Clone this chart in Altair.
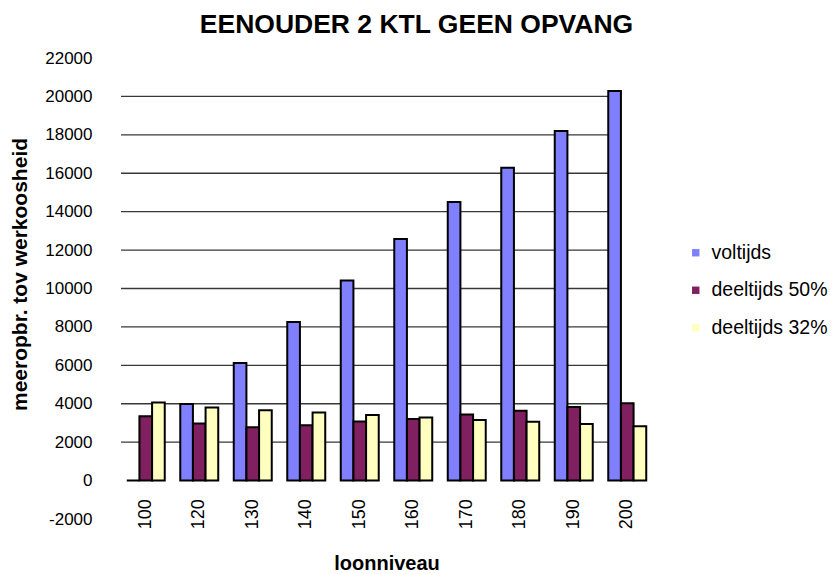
import altair as alt
import pandas as pd

categories = ["100", "120", "130", "140", "150", "160", "170", "180", "190", "200"]
series = ["voltijds", "deeltijds 50%", "deeltijds 32%"]
voltijds = [0, 3990, 6120, 8250, 10420, 12580, 14500, 16290, 18200, 20280]
deeltijds_50 = [3350, 2970, 2780, 2880, 3070, 3200, 3440, 3630, 3830, 4030]
deeltijds_32 = [4060, 3800, 3660, 3540, 3420, 3280, 3160, 3060, 2940, 2830]
y_ticks = list(range(-2000, 22001, 2000))
grid_values = list(range(2000, 20001, 2000))
colors = ["#8080ff", "#802060", "#ffffc0"]

rows = []
for name, vals in zip(series, [voltijds, deeltijds_50, deeltijds_32]):
    for c, v in zip(categories, vals):
        rows.append({"loon": c, "serie": name, "waarde": v})
df = pd.DataFrame(rows)
grid_df = pd.DataFrame({"waarde": grid_values})

FONT = "Liberation Sans"
yscale = alt.Scale(domain=[-2000, 22000], nice=False)
yaxis = alt.Axis(
    title="meeropbr. tov werkoosheid",
    values=y_ticks,
    labelExpr="'' + datum.value",
    grid=False,
    domain=False,
    ticks=False,
    labelPadding=27,
    labelFontSize=17,
    labelColor="black",
    titleFontSize=21,
    titleFontWeight="bold",
    titleColor="black",
    titleX=-89,
    titleY=216,
)

rules = alt.Chart(grid_df).mark_rule(color="#383838", strokeWidth=1.3).encode(
    y=alt.Y("waarde:Q", scale=yscale, axis=yaxis),
    x=alt.value(2),
    x2=alt.value(501),
)

bars = alt.Chart(df).mark_bar(stroke="black", strokeWidth=2).encode(
    x=alt.X(
        "loon:N",
        sort=categories,
        scale=alt.Scale(paddingInner=0.29, paddingOuter=0.145),
        axis=alt.Axis(
            title="loonniveau",
            labelAngle=-90,
            domain=False,
            ticks=False,
            offset=-38.4,
            labelPadding=18,
            labelFontSize=18,
            labelColor="black",
            titleFontSize=20,
            titleFontWeight="bold",
            titleColor="black",
            titleY=73,
        ),
    ),
    xOffset=alt.XOffset("serie:N", sort=series, scale=alt.Scale(paddingInner=0, paddingOuter=0)),
    y=alt.Y("waarde:Q", scale=yscale, axis=yaxis),
    color=alt.Color(
        "serie:N",
        sort=series,
        scale=alt.Scale(domain=series, range=colors),
        legend=alt.Legend(
            title=None,
            orient="none",
            legendX=567,
            legendY=185,
            symbolType="square",
            symbolSize=55,
            symbolStrokeWidth=0,
            labelFontSize=19.5,
            labelColor="black",
            labelOffset=6,
            rowPadding=16.5,
            padding=0,
        ),
    ),
)

chart = alt.layer(rules, bars).properties(
    width=535,
    height=461,
    autosize="none",
    padding={"left": 111, "top": 50, "right": 176, "bottom": 54},
    title=alt.TitleParams(
        "EENOUDER 2 KTL GEEN OPVANG",
        fontSize=26.5,
        fontWeight="bold",
        font=FONT,
        color="black",
        anchor="middle",
        dx=30,
        dy=-7,
    ),
).configure_axis(
    labelFont=FONT, titleFont=FONT
).configure_legend(
    labelFont=FONT
).configure_view(
    stroke=None
)

chart.save("out.html", embed_options={"renderer": "svg", "actions": False})
